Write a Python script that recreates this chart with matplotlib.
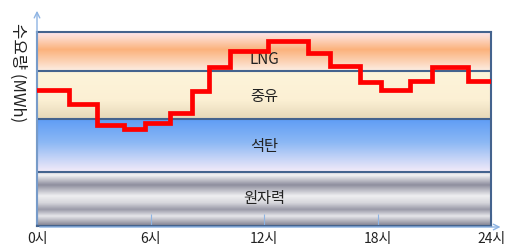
import numpy as np
import matplotlib
matplotlib.use("Agg")
import matplotlib.pyplot as plt
from matplotlib.colors import LinearSegmentedColormap

plt.rcParams['font.family'] = ['Noto Sans CJK KR', 'DejaVu Sans']

# band edges (demand units) and labels
band_names = ['원자력', '석탄', '중유', 'LNG']
band_edges = [0, 54, 107, 155, 194]
label_y = [27, 79, 129, 166]

# hourly demand, step function
step_edges = [0, 1.7, 3.15, 4.6, 5.7, 7.05, 8.2, 9.1, 10.2, 12.2, 14.3,
              15.5, 17.1, 18.2, 19.7, 20.9, 22.8, 24]
demand = [135.5, 122, 101, 96.5, 102.5, 112.5, 135, 158.5, 174.5, 184.5,
          172.5, 160, 144, 135.5, 144.5, 158.5, 144.5]

hour_ticks = [0, 6, 12, 18, 24]
hour_labels = ['0시', '6시', '12시', '18시', '24시']

# vertical gradients, listed top -> bottom
band_colors = {
    'LNG': [(0, '#fde6ee'), (0.15, '#fdd8c8'), (0.45, '#fbb27c'), (0.75, '#fcd2b4'), (1, '#fdeee4')],
    '중유': [(0, '#fdf4da'), (0.6, '#fcf0d4'), (1, '#e6d8b8')],
    '석탄': [(0, '#5d9cf6'), (0.45, '#8cb8f4'), (1, '#f4ebf9')],
    '원자력': [(0, '#cfcfd5'), (0.07, '#f2f2f4'), (0.25, '#8e8e9e'), (0.45, '#efeff1'),
            (0.58, '#d6d6dc'), (0.7, '#9a9aa8'), (0.82, '#e6e6ea'), (1, '#7e7e8e')],
}

fig = plt.figure(figsize=(5.07, 2.47), dpi=100)
ax = fig.add_axes([37 / 507, 21 / 247, 454 / 507, 194 / 247])

for i, name in enumerate(band_names):
    lo, hi = band_edges[i], band_edges[i + 1]
    cmap = LinearSegmentedColormap.from_list(name, band_colors[name])
    grad = np.linspace(0, 1, 200).reshape(-1, 1)
    ax.imshow(grad, cmap=cmap, extent=(0, 24, lo, hi), aspect='auto',
              origin='upper', zorder=0)
    ax.text(12, label_y[i], name, ha='center', va='center', fontsize=11,
            color='#222222', zorder=3)
    if i > 0:
        ax.axhline(lo, color='#44638e', lw=1.5, zorder=1)

ax.step(step_edges, demand + [demand[-1]], where='post', color='#ff0000',
        lw=3.4, solid_joinstyle='miter', zorder=4)

ax.set_xlim(0, 24)
ax.set_ylim(0, 194)
for s in ax.spines.values():
    s.set_color('#44638e')
    s.set_linewidth(1.5)

ax.set_yticks([])
ax.set_xticks(hour_ticks)
ax.set_xticklabels(hour_labels, fontsize=10, color='#222222')
ax.tick_params(axis='x', direction='in', length=9, color='#8eb4e3', pad=4)

# axis arrows
ax.annotate('', xy=(0, 194 + 24), xytext=(0, -1), xycoords='data',
            arrowprops=dict(arrowstyle='->', color='#8eb4e3', lw=1), annotation_clip=False)
ax.annotate('', xy=(24.65, -1), xytext=(0, -1), xycoords='data',
            arrowprops=dict(arrowstyle='->', color='#8eb4e3', lw=1), annotation_clip=False)

fig.text(18 / 507, 1 - 73 / 247, '수요량 (MWh)', rotation=270, ha='center', va='center',
         fontsize=12, color='#222222')

fig.savefig('out.png', dpi=100)
